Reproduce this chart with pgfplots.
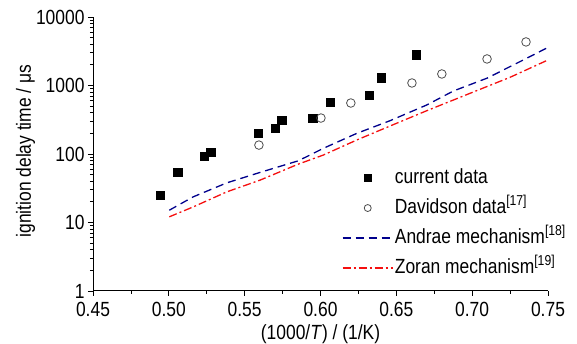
\documentclass[border=0pt]{standalone}
\usepackage{pgfplots}
\pgfplotsset{compat=1.18}
\usepackage{fontspec}
\setmainfont{Liberation Sans}[FakeStretch=0.85]
\definecolor{andrae}{RGB}{0,0,140}
\definecolor{zoran}{RGB}{245,15,15}
\pgfplotsset{
  lineleg/.style={legend image code/.code={\draw[##1] (0pt,0pt) -- (50pt,0pt);}},
  sqleg/.style={legend image code/.code={\draw[##1] plot[mark=square*, mark size=3.5pt] coordinates {(25pt,0pt)};}},
  cileg/.style={legend image code/.code={\draw[##1] plot[mark=o, mark size=3.5pt] coordinates {(25pt,0pt)};}},
}
\begin{document}
\begin{tikzpicture}
\useasboundingbox (-93pt,-53pt) rectangle (484pt,291pt);
\begin{axis}[
  scale only axis,
  width=455pt, height=274pt,
  at={(0,0)}, anchor=south west,
  xmin=0.45, xmax=0.75,
  ymode=log, ymin=1, ymax=10000,
  axis x line*=bottom, axis y line*=left,
  axis line style={-, line width=1pt},
  every tick/.style={black, line width=0.8pt},
  tick align=outside,
  major tick length=5pt, minor tick length=3pt,
  xtick={0.45,0.50,0.55,0.60,0.65,0.70,0.75},
  xticklabels={0.45,0.50,0.55,0.60,0.65,0.70,0.75},
  minor x tick num=1,
  ytick={1,10,100,1000,10000},
  yticklabels={1,10,100,1000,10000},
  /pgf/number format/assume math mode=true,
  tick label style={font=\fontsize{20.5}{24}\selectfont},
  x tick label style={yshift=-2.5pt},
  label style={font=\fontsize{20.5}{24}\selectfont},
  xlabel={(1000/\textit{T}) / (1/K)},
  ylabel={ignition delay time / μs},
  xlabel style={yshift=-1pt},
  ylabel style={yshift=-6pt, xshift=3pt},
  legend style={at={(axis description cs:0.547,0.455)}, anchor=north west,
    draw=none, fill=none, font=\fontsize{20.5}{24}\selectfont,
    row sep=7pt, column sep=0pt, inner sep=0pt,
    nodes={inner sep=1.5pt, text height=15pt, text depth=5pt}},
  legend cell align=left,
]
\addplot[only marks, mark=square*, mark size=4.3pt, black, sqleg]
  coordinates {
  (0.4942,25.1) (0.506,54.4) (0.5232,93.2) (0.5278,106.6)
  (0.5588,202) (0.570,239) (0.5746,313) (0.595,335)
  (0.6063,574) (0.632,726) (0.6399,1288) (0.663,2792)
};
\addlegendentry{current data}
\addplot[only marks, mark=o, mark size=4.3pt, black!70, line width=0.8pt, cileg]
  coordinates {
  (0.5594,135) (0.6003,335) (0.620,555) (0.6603,1088)
  (0.680,1473) (0.7098,2440) (0.7355,4325)
};
\addlegendentry{Davidson data\textsuperscript{[17]}}
\addplot[andrae, line width=1.3pt, dash pattern=on 8pt off 5pt, no marks, lineleg]
  coordinates {
  (0.5003,15.1) (0.5062,17.9) (0.5161,23.7) (0.5382,37.9)
  (0.5601,53.8) (0.5854,79.6) (0.6018,120.8) (0.6239,200)
  (0.6458,306) (0.670,519) (0.6876,831) (0.7096,1274)
  (0.7315,2228) (0.7502,3616)
};
\addlegendentry{Andrae mechanism\textsuperscript{[18]}}
\addplot[zoran, line width=1.3pt, dash pattern=on 8pt off 3pt on 2pt off 3pt, no marks, lineleg]
  coordinates {
  (0.5003,12.1) (0.5161,16.9) (0.5382,28) (0.5601,41.5)
  (0.5854,71.2) (0.6018,96.4) (0.6239,160) (0.6458,256)
  (0.670,428) (0.6986,769) (0.725,1318) (0.749,2305)
};
\addlegendentry{Zoran mechanism\textsuperscript{[19]}}
\end{axis}
\end{tikzpicture}
\end{document}
